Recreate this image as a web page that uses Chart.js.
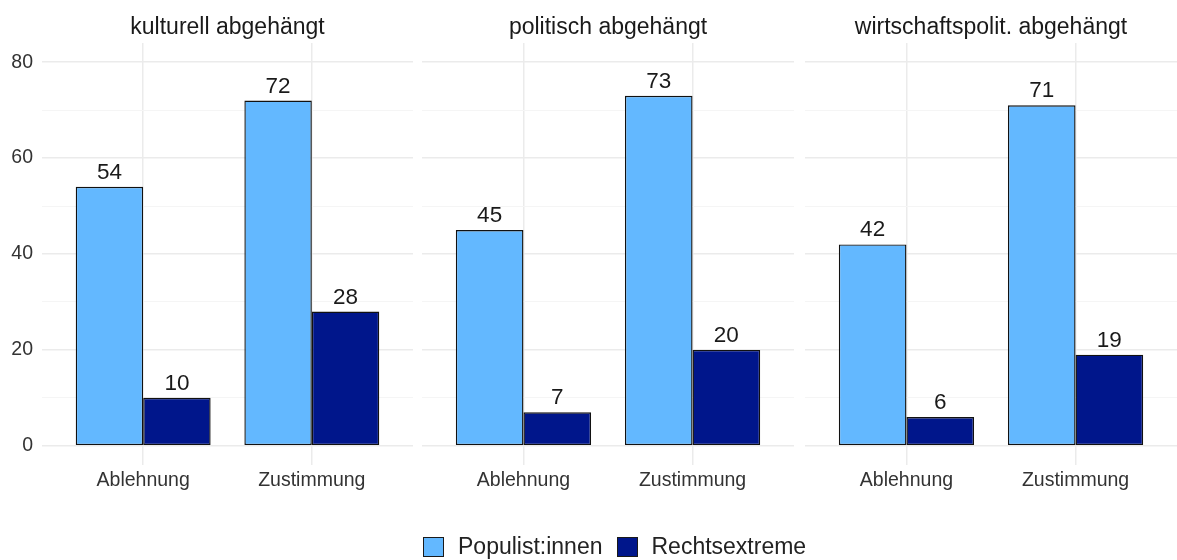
<!DOCTYPE html>
<html>
<head>
<meta charset="utf-8">
<script src="https://cdn.jsdelivr.net/npm/chart.js@4"></script>
<style>
  html, body { margin: 0; padding: 0; background: #fff; }
  #wrap { position: relative; width: 1177px; height: 560px; overflow: hidden; font-family: "Liberation Sans", Arial, sans-serif; }
  canvas { position: absolute; top: 0; }
  #legend { position: absolute; top: 533px; left: 423px; display: flex; align-items: center; font-size: 23px; color: #222; white-space: nowrap; }
  #legend span.box { display: inline-block; width: 21px; height: 20px; border: 1px solid #1a1a1a; box-sizing: border-box; margin-right: 14px; }
  #legend span.item { display: inline-flex; align-items: center; margin-right: 14px; }
</style>
</head>
<body>
<div id="wrap">
  <canvas id="c0" width="413" height="560" style="left:0px"></canvas>
  <canvas id="c1" width="372" height="560" style="left:422px"></canvas>
  <canvas id="c2" width="372" height="560" style="left:805px"></canvas>
  <div id="legend"></div>
</div>
<script>
// facet titles and x categories
const facets = ['kulturell abgehängt', 'politisch abgehängt', 'wirtschaftspolit. abgehängt'];
const categories = ['Ablehnung', 'Zustimmung'];
const seriesNames = ['Populist:innen', 'Rechtsextreme'];

// values per facet: [Ablehnung, Zustimmung]
const populistValues = [[54, 72], [45, 73], [42, 71]];
const rechtsValues = [[10, 28], [7, 20], [6, 19]];

const yTicks = [0, 10, 20, 30, 40, 50, 60, 70, 80];

const lightBlue = '#63B8FF';
const navy = '#00168B';
const font = '"Liberation Sans", Arial, sans-serif';

// numbers above each bar
const valueLabels = {
  id: 'valueLabels',
  afterDatasetsDraw(chart) {
    const ctx = chart.ctx;
    ctx.save();
    ctx.font = '22.5px ' + font;
    ctx.fillStyle = '#1a1a1a';
    ctx.textAlign = 'center';
    ctx.textBaseline = 'alphabetic';
    chart.data.datasets.forEach((ds, i) => {
      chart.getDatasetMeta(i).data.forEach((bar, j) => {
        ctx.fillText(ds.data[j].y, bar.x, bar.y - 8);
      });
    });
    ctx.restore();
  }
};

function makeChart(idx) {
  const first = idx === 0;
  const toPoints = vals => vals.map((v, k) => ({ x: k + 1, y: v }));
  return new Chart(document.getElementById('c' + idx), {
    type: 'bar',
    data: {
      datasets: [
        { label: seriesNames[0], data: toPoints(populistValues[idx]), backgroundColor: lightBlue },
        { label: seriesNames[1], data: toPoints(rechtsValues[idx]), backgroundColor: navy }
      ]
    },
    options: {
      responsive: false,
      animation: false,
      layout: { padding: { top: 0, bottom: 60, left: 0, right: 0 } },
      datasets: {
        bar: {
          borderColor: '#111',
          borderWidth: 1.4,
          borderSkipped: false,
          barPercentage: 1,
          categoryPercentage: 0.8
        }
      },
      plugins: {
        legend: { display: false },
        tooltip: { enabled: false },
        title: {
          display: true,
          fullSize: false,
          text: facets[idx],
          color: '#1a1a1a',
          font: { family: font, size: 23, weight: 'normal', lineHeight: 1.2 },
          padding: { top: 13.4, bottom: 2 }
        }
      },
      scales: {
        x: {
          type: 'linear',
          offset: false,
          min: 0.4,
          max: 2.6,
          afterBuildTicks: s => { s.ticks = categories.map((c, k) => ({ value: k + 1 })); },
          afterFit: s => { s.height = 35; },
          ticks: {
            callback: v => categories[v - 1],
            color: '#333',
            padding: 4,
            font: { family: font, size: 19.5 }
          },
          grid: { offset: false, color: '#EBEBEB', lineWidth: 1.5, drawTicks: false },
          border: { display: false }
        },
        y: {
          min: -4,
          max: 84,
          afterBuildTicks: s => { s.ticks = yTicks.map(v => ({ value: v })); },
          afterFit: s => { s.width = first ? 42 : 0; },
          ticks: {
            display: first,
            callback: v => (v % 20 === 0 ? v : ''),
            color: '#333',
            padding: 9,
            font: { family: font, size: 19.5 }
          },
          grid: {
            drawTicks: false,
            color: c => (c.tick && c.tick.value % 20 === 0 ? '#EBEBEB' : '#F5F5F5'),
            lineWidth: c => (c.tick && c.tick.value % 20 === 0 ? 1.5 : 1)
          },
          border: { display: false }
        }
      }
    },
    plugins: [valueLabels]
  });
}

facets.forEach((f, i) => makeChart(i));

// legend below the panels
const legend = document.getElementById('legend');
[lightBlue, navy].forEach((col, i) => {
  const item = document.createElement('span');
  item.className = 'item';
  const box = document.createElement('span');
  box.className = 'box';
  box.style.background = col;
  item.appendChild(box);
  item.appendChild(document.createTextNode(seriesNames[i]));
  legend.appendChild(item);
});
</script>
</body>
</html>
